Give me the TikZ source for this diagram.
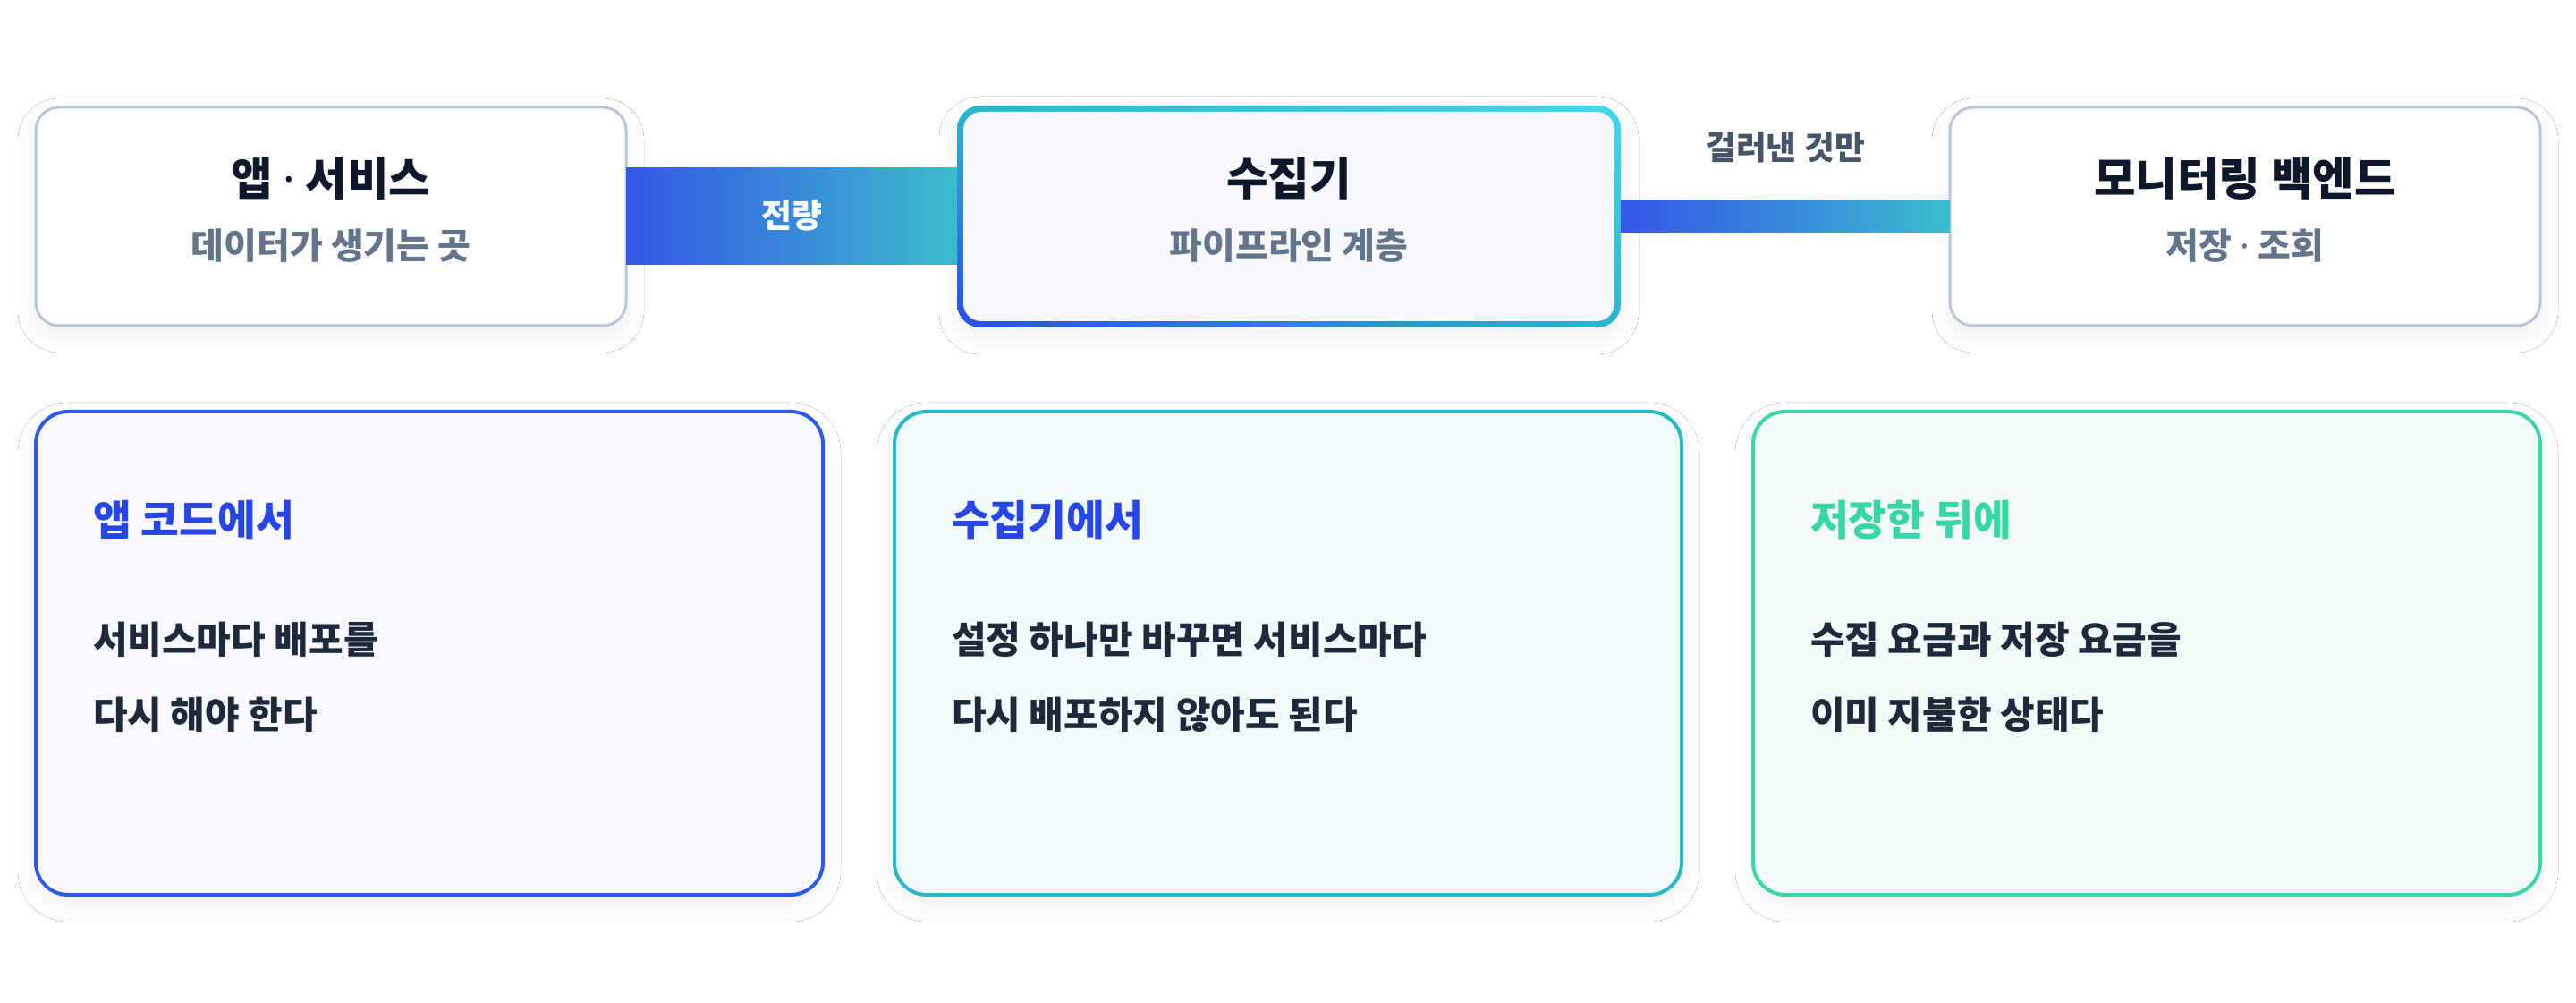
\documentclass[tikz,border=0pt]{standalone}
\usepackage{fontspec}
\setmainfont{Noto Sans CJK KR}
\newfontfamily\latinfont{Noto Sans}
\usetikzlibrary{positioning,calc,shadings,shadows.blur}

\definecolor{edgegray}{HTML}{B9C5D9}
\definecolor{ink}{HTML}{0F172A}
\definecolor{subgray}{HTML}{64748B}
\definecolor{bodyink}{HTML}{1E293B}
\definecolor{flowgray}{HTML}{475569}
\definecolor{hubblue}{HTML}{2A4DE6}
\definecolor{hubteal}{HTML}{2BB7CB}
\definecolor{hubcyan}{HTML}{44D6EC}
\definecolor{hubbg}{HTML}{F6F8FC}
\definecolor{barblue}{HTML}{3656E8}
\definecolor{barteal}{HTML}{3ABCCB}
\definecolor{codeblue}{HTML}{2D5BE8}
\definecolor{codebg}{HTML}{F7F9FE}
\definecolor{headblue}{HTML}{2846E8}
\definecolor{collteal}{HTML}{26B8C9}
\definecolor{collbg}{HTML}{F2FBFC}
\definecolor{storegreen}{HTML}{3AD6AA}
\definecolor{storebg}{HTML}{F2FBF8}
\definecolor{headgreen}{HTML}{36D6A6}

\newcommand{\mdot}{{\latinfont\bfseries ·}}

\tikzset{
  soft/.style={blur shadow={shadow xshift=0pt, shadow yshift=-5pt, shadow blur radius=10pt,
    shadow blur steps=30, shadow opacity=6}},
  glyphs/.style={text height=0.83em, text depth=0.05em},
  endbox/.style={soft, draw=edgegray, line width=1.5pt, fill=white, rounded corners=13pt,
    minimum width=330pt, minimum height=122pt},
  hubbox/.style={soft, rounded corners=13pt, minimum width=371pt, minimum height=124pt,
    shade, upper left=hubteal, upper right=hubcyan, lower left=hubblue, lower right=hubteal},
  hubfill/.style={fill=hubbg, rounded corners=10pt, minimum width=364pt, minimum height=117pt},
  card/.style={soft, line width=2pt, rounded corners=18pt, minimum width=440pt, minimum height=270pt},
  title/.style={glyphs, text=ink, font=\bfseries\fontsize{25.3}{30}\selectfont},
  subtitle/.style={glyphs, text=subgray, font=\bfseries\fontsize{20}{24}\selectfont},
  flowlbl/.style={glyphs, font=\bfseries\fontsize{18.4}{22}\selectfont},
  head/.style={glyphs, anchor=west, font=\bfseries\fontsize{23.3}{28}\selectfont},
  body/.style={glyphs, anchor=west, text=bodyink, font=\bfseries\fontsize{21}{25}\selectfont}
}

\begin{document}
\begin{tikzpicture}[x=1pt, y=1pt, every node/.style={inner sep=0pt, outer sep=0pt}]
  \fill[white] (0,0) rectangle (1440,560);
  \useasboundingbox (0,0) rectangle (1440,560);

  \node[endbox] (app) at (185,439) {};
  \node[hubbox] (coll) at (720.5,439) {};
  \node[hubfill] (collin) at (coll.center) {};
  \node[endbox] (mon) at (1255,439) {};

  \shade[left color=barblue, right color=barteal]
    ([yshift=-27pt]app.east) rectangle ([yshift=27pt]coll.west);
  \shade[left color=barblue, right color=barteal]
    ([yshift=-9pt]coll.east) rectangle ([yshift=9pt]mon.west);

  \node[title] (appt) at ([yshift=15.5pt]app.center) {앱 \mdot{} 서비스};
  \node[subtitle] (apps) at ([yshift=-20pt]app.center) {데이터가 생기는 곳};
  \node[title] (collt) at ([yshift=15.5pt]coll.center) {수집기};
  \node[subtitle] (colls) at ([yshift=-20pt]coll.center) {파이프라인 계층};
  \node[title] (mont) at ([yshift=15.5pt]mon.center) {모니터링 백엔드};
  \node[subtitle] (mons) at ([yshift=-20pt]mon.center) {저장 \mdot{} 조회};

  \node[flowlbl, text=white] (all) at ([yshift=-2.5pt]$(app.east)!0.5!(coll.west)$) {전량};
  \coordinate (fmid) at ($(coll.east)!0.5!(mon.west)$);
  \node[flowlbl, text=flowgray, above=31pt of fmid] (some) {걸러낸 것만};

  \node[card, draw=codeblue, fill=codebg] (code) at (240,195) {};
  \node[card, draw=collteal, fill=collbg] (pipe) at (720,195) {};
  \node[card, draw=storegreen, fill=storebg] (store) at (1200,195) {};

  \node[head, text=headblue] (codeh) at ([xshift=32pt, yshift=69.5pt]code.west) {앱 코드에서};
  \node[body] (code1) at ([xshift=32pt, yshift=3.5pt]code.west) {서비스마다 배포를};
  \node[body] (code2) at ([xshift=32pt, yshift=-38.5pt]code.west) {다시 해야 한다};

  \node[head, text=headblue] (pipeh) at ([xshift=32pt, yshift=69.5pt]pipe.west) {수집기에서};
  \node[body] (pipe1) at ([xshift=32pt, yshift=3.5pt]pipe.west) {설정 하나만 바꾸면 서비스마다};
  \node[body] (pipe2) at ([xshift=32pt, yshift=-38.5pt]pipe.west) {다시 배포하지 않아도 된다};

  \node[head, text=headgreen] (storeh) at ([xshift=32pt, yshift=69.5pt]store.west) {저장한 뒤에};
  \node[body] (store1) at ([xshift=32pt, yshift=3.5pt]store.west) {수집 요금과 저장 요금을};
  \node[body] (store2) at ([xshift=32pt, yshift=-38.5pt]store.west) {이미 지불한 상태다};
\end{tikzpicture}
\end{document}
